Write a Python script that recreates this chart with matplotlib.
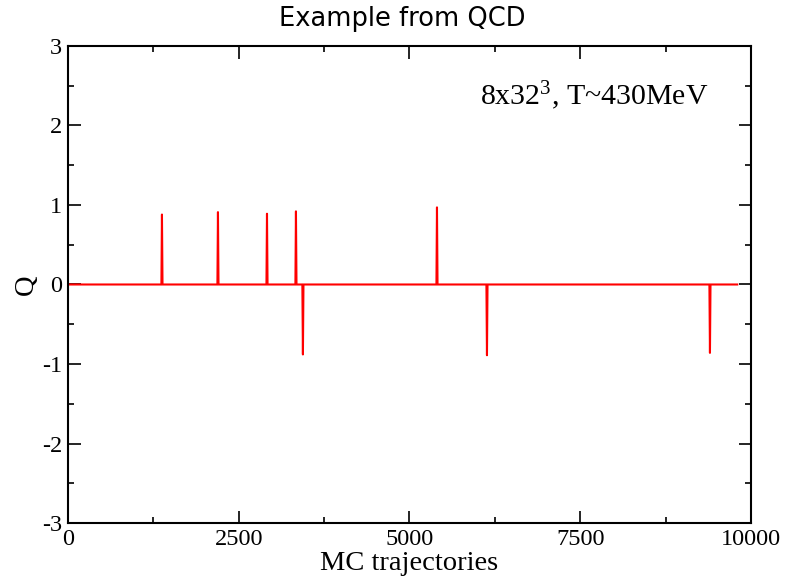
import numpy as np
import matplotlib.pyplot as plt
from matplotlib.ticker import MultipleLocator

serif = 'Liberation Serif'
plt.rcParams['mathtext.fontset'] = 'custom'
plt.rcParams['mathtext.rm'] = serif
plt.rcParams['mathtext.it'] = serif
plt.rcParams['axes.unicode_minus'] = False

# topological charge history: zero except for short tunnelling spikes
traj_end = 9800
spike_traj = [1376, 2196, 2914, 3338, 3440, 5403, 6135, 9400]
spike_q = [0.88, 0.91, 0.89, 0.92, -0.88, 0.97, -0.89, -0.86]

x_ticks = [0, 2500, 5000, 7500, 10000]
y_ticks = [-3, -2, -1, 0, 1, 2, 3]

def build_series(spikes, charges, width=8):
    xs = [0]
    ys = [0.0]
    for t, q in zip(spikes, charges):
        xs += [t - width, t, t + width]
        ys += [0.0, q, 0.0]
    xs.append(traj_end)
    ys.append(0.0)
    return xs, ys

xs, ys = build_series(spike_traj, spike_q)

fig = plt.figure(figsize=(7.85, 5.79), dpi=100)
ax = fig.add_axes([0.0866, 0.0967, 0.870, 0.8239])

ax.plot(xs, ys, color='red', lw=1.5)

ax.set_xlim(0, 10000)
ax.set_ylim(-3, 3)
ax.set_xticks(x_ticks)
ax.set_yticks(y_ticks)
ax.xaxis.set_minor_locator(MultipleLocator(1250))
ax.yaxis.set_minor_locator(MultipleLocator(0.5))

ax.tick_params(which='both', direction='in', top=True, right=True, width=1.2)
ax.tick_params(which='major', length=9, pad=4)
ax.tick_params(which='minor', length=4.5)
for lab in ax.get_xticklabels() + ax.get_yticklabels():
    lab.set_fontfamily(serif)
    lab.set_fontsize(17.5)
for sp in ax.spines.values():
    sp.set_linewidth(1.5)

ax.set_xlabel('MC trajectories', fontfamily=serif, fontsize=20.5)
ax.set_ylabel('Q', fontfamily=serif, fontsize=20.5)
ax.xaxis.set_label_coords(0.5, -0.058)
ax.yaxis.set_label_coords(-0.042, 0.5)

ax.text(6030, 2.38, r'8x32$^3$, T~430MeV', fontfamily=serif, fontsize=21.5,
        va='center', ha='left')

fig.text(0.513, 0.968, 'Example from QCD', fontsize=18.5, ha='center', va='center')

fig.savefig('out.png', dpi=100)
